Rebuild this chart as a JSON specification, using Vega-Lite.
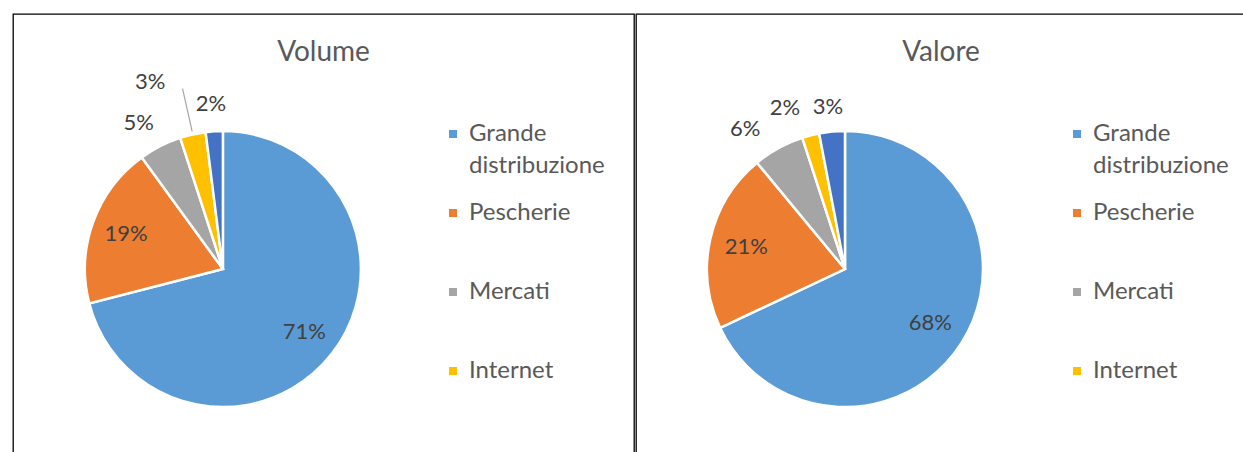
{
  "$schema": "https://vega.github.io/schema/vega-lite/v6.json",
  "padding": {"left": 12, "top": 13, "right": 0, "bottom": 0},
  "background": "#ffffff",
  "spacing": 0,
  "config": {
    "view": {"stroke": "#000000", "strokeWidth": 1.3},
    "font": "Lato",
    "style": {"guide-label": {"lineHeight": 32}}
  },
  "datasets": {
    "shares": [
      {"panel": "Volume", "k": 1, "cat": "Grande distribuzione", "value": 0.71},
      {"panel": "Volume", "k": 2, "cat": "Pescherie", "value": 0.19},
      {"panel": "Volume", "k": 3, "cat": "Mercati", "value": 0.05},
      {"panel": "Volume", "k": 4, "cat": "Internet", "value": 0.03},
      {"panel": "Volume", "k": 5, "cat": "Altro", "value": 0.02},
      {"panel": "Valore", "k": 1, "cat": "Grande distribuzione", "value": 0.68},
      {"panel": "Valore", "k": 2, "cat": "Pescherie", "value": 0.21},
      {"panel": "Valore", "k": 3, "cat": "Mercati", "value": 0.06},
      {"panel": "Valore", "k": 4, "cat": "Internet", "value": 0.02},
      {"panel": "Valore", "k": 5, "cat": "Altro", "value": 0.03}
    ]
  },
  "resolve": {"scale": {"color": "independent"}, "legend": {"color": "independent"}},
  "hconcat": [
    {
      "width": 621,
      "height": 439,
      "title": {"text": "Volume", "offset": -53, "fontSize": 28, "fontWeight": "normal", "color": "#595959", "font": "Lato", "anchor": "middle", "frame": "group"},
      "data": {"name": "shares"},
      "transform": [{"filter": "datum.panel == 'Volume'"}],
      "encoding": {
        "x": {"datum": 0.338, "type": "quantitative", "scale": {"domain": [0, 1]}, "axis": null},
        "y": {"datum": 0.419, "type": "quantitative", "scale": {"domain": [0, 1]}, "axis": null},
        "theta": {"field": "value", "type": "quantitative", "stack": true},
        "order": {"field": "k", "type": "quantitative"}
      },
      "layer": [
        {
          "mark": {"type": "arc", "outerRadius": 138, "stroke": "#ffffff", "strokeWidth": 2.5},
          "encoding": {
            "color": {
              "field": "cat", "type": "nominal",
              "scale": {"domain": ["Grande distribuzione", "Pescherie", "Mercati", "Internet", "Altro"], "range": ["#5B9BD5", "#ED7D31", "#A5A5A5", "#FFC000", "#4472C4"]},
              "legend": {
                "title": null, "orient": "none", "legendX": 428, "legendY": 108,
                "values": ["Grande distribuzione", "Pescherie", "Mercati", "Internet"],
                "symbolType": "square", "symbolSize": 64, "symbolStrokeWidth": 0,
                "labelFontSize": 24, "labelColor": "#595959", "labelFont": "Lato", "labelLimit": 300,
                "labelOffset": 4, "labelBaseline": "middle",
                "rowPadding": 23,
                "labelExpr": "datum.label == 'Grande distribuzione' ? ['Grande', 'distribuzione'] : [datum.label, ' ']",
                "encode": {"labels": {"lineHeight": {"value": 32}}}
              }
            }
          }
        },
        {
          "mark": {"type": "arc", "innerRadius": 141, "outerRadius": 185, "padAngle": 0.6, "stroke": "#A6A6A6", "strokeWidth": 1.2, "fillOpacity": 0},
          "encoding": {
            "strokeOpacity": {"condition": {"test": "datum.cat == 'Internet'", "value": 1}, "value": 0}
          }
        },
        {
          "mark": {"type": "text", "radius": 103, "fontSize": 22, "color": "#404040", "font": "Lato"},
          "encoding": {"text": {"condition": {"test": "datum.value >= 0.1", "field": "value", "type": "quantitative", "format": ".0%"}, "value": ""}}
        },
        {
          "mark": {"type": "text", "radius": 169, "thetaOffset": -0.05, "fontSize": 22, "color": "#404040", "font": "Lato"},
          "encoding": {"text": {"condition": {"test": "datum.cat == 'Mercati'", "field": "value", "type": "quantitative", "format": ".0%"}, "value": ""}}
        },
        {
          "mark": {"type": "text", "radius": 165, "thetaOffset": -0.01, "fontSize": 22, "color": "#404040", "font": "Lato"},
          "encoding": {"text": {"condition": {"test": "datum.cat == 'Altro'", "field": "value", "type": "quantitative", "format": ".0%"}, "value": ""}}
        },
        {
          "mark": {"type": "text", "radius": 201, "thetaOffset": -0.15, "fontSize": 22, "color": "#404040", "font": "Lato"},
          "encoding": {"text": {"condition": {"test": "datum.cat == 'Internet'", "field": "value", "type": "quantitative", "format": ".0%"}, "value": ""}}
        }
      ]
    },
    {
      "width": 610,
      "height": 439,
      "title": {"text": "Valore", "offset": -53, "fontSize": 28, "fontWeight": "normal", "color": "#595959", "font": "Lato", "anchor": "middle", "frame": "group"},
      "data": {"name": "shares"},
      "transform": [{"filter": "datum.panel == 'Valore'"}],
      "encoding": {
        "x": {"datum": 0.3426, "type": "quantitative", "scale": {"domain": [0, 1]}, "axis": null},
        "y": {"datum": 0.419, "type": "quantitative", "scale": {"domain": [0, 1]}, "axis": null},
        "theta": {"field": "value", "type": "quantitative", "stack": true},
        "order": {"field": "k", "type": "quantitative"}
      },
      "layer": [
        {
          "mark": {"type": "arc", "outerRadius": 138, "stroke": "#ffffff", "strokeWidth": 2.5},
          "encoding": {
            "color": {
              "field": "cat", "type": "nominal",
              "scale": {"domain": ["Grande distribuzione", "Pescherie", "Mercati", "Internet", "Altro"], "range": ["#5B9BD5", "#ED7D31", "#A5A5A5", "#FFC000", "#4472C4"]},
              "legend": {
                "title": null, "orient": "none", "legendX": 429, "legendY": 108,
                "values": ["Grande distribuzione", "Pescherie", "Mercati", "Internet"],
                "symbolType": "square", "symbolSize": 64, "symbolStrokeWidth": 0,
                "labelFontSize": 24, "labelColor": "#595959", "labelFont": "Lato", "labelLimit": 300,
                "labelOffset": 4, "labelBaseline": "middle",
                "rowPadding": 23,
                "labelExpr": "datum.label == 'Grande distribuzione' ? ['Grande', 'distribuzione'] : [datum.label, ' ']",
                "encode": {"labels": {"lineHeight": {"value": 32}}}
              }
            }
          }
        },
        {
          "mark": {"type": "text", "radius": 101, "fontSize": 22, "color": "#404040", "font": "Lato"},
          "encoding": {"text": {"condition": {"test": "datum.value >= 0.1", "field": "value", "type": "quantitative", "format": ".0%"}, "value": ""}}
        },
        {
          "mark": {"type": "text", "radius": 172, "thetaOffset": -0.117, "fontSize": 22, "color": "#404040", "font": "Lato"},
          "encoding": {"text": {"condition": {"test": "datum.cat == 'Mercati'", "field": "value", "type": "quantitative", "format": ".0%"}, "value": ""}}
        },
        {
          "mark": {"type": "text", "radius": 163, "thetaOffset": -0.01, "fontSize": 22, "color": "#404040", "font": "Lato"},
          "encoding": {"text": {"condition": {"test": "datum.cat == 'Altro'", "field": "value", "type": "quantitative", "format": ".0%"}, "value": ""}}
        },
        {
          "mark": {"type": "text", "radius": 172, "thetaOffset": -0.105, "fontSize": 22, "color": "#404040", "font": "Lato"},
          "encoding": {"text": {"condition": {"test": "datum.cat == 'Internet'", "field": "value", "type": "quantitative", "format": ".0%"}, "value": ""}}
        }
      ]
    }
  ]
}
